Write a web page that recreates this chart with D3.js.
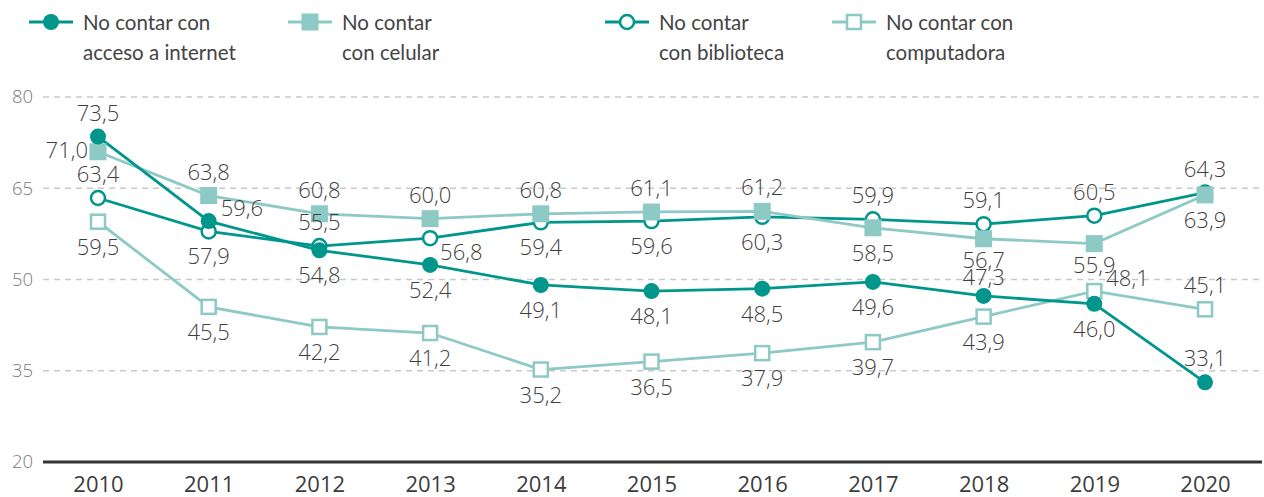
<!DOCTYPE html>
<html><head><meta charset="utf-8">
<script src="https://cdn.jsdelivr.net/npm/d3@7"></script>
<style>
html,body{margin:0;padding:0;background:#fff;}
svg{display:block;font-family:Lato,"Open Sans",sans-serif;}
</style></head>
<body>
<svg id="chart" width="1264" height="497"></svg>
<script>
const years = ["2010","2011","2012","2013","2014","2015","2016","2017","2018","2019","2020"];
const yTicks = [20,35,50,65,80];
const internet    = [73.5,59.6,54.8,52.4,49.1,48.1,48.5,49.6,47.3,46.0,33.1];
const celular     = [71.0,63.8,60.8,60.0,60.8,61.1,61.2,58.5,56.7,55.9,63.9];
const biblioteca  = [63.4,57.9,55.5,56.8,59.4,59.6,60.3,59.9,59.1,60.5,64.3];
const computadora = [59.5,45.5,42.2,41.2,35.2,36.5,37.9,39.7,43.9,48.1,45.1];
const names = [["No contar con","acceso a internet"],["No contar","con celular"],["No contar","con biblioteca"],["No contar con","computadora"]];
// label placement codes (a=above, b=below, a2/b2 = tight, l=left, ru=right-up, rd=right-down)
const placeInternet    = ["a","ru","b","b","b","b","b","b","a2","b","a"];
const placeCelular     = ["l","a","a","a","a","a","a","b","b2","b2","b"];
const placeBiblioteca  = ["a","b","a","rd","b","b","b","a","a","a","a"];
const placeComputadora = ["b","b","b","b","b","b","b","b","b","ru","a"];

const dark = "#00968c", light = "#8dc9c5";
const series = [
  {name:names[3], values:computadora, place:placeComputadora, color:light, shape:"square", fill:false},
  {name:names[2], values:biblioteca, place:placeBiblioteca, color:dark, shape:"circle", fill:false},
  {name:names[1], values:celular, place:placeCelular, color:light, shape:"square", fill:true},
  {name:names[0], values:internet, place:placeInternet, color:dark, shape:"circle", fill:true}
];
const legendOrder = [3,2,1,0];
const numFont = "'Open Sans',sans-serif";

const svg = d3.select("#chart");
const x = d3.scalePoint().domain(years).range([98,1205]);
const y = d3.scaleLinear().domain([20,80]).range([462,97]);

// grid
svg.append("g").selectAll("line").data(yTicks.filter(d=>d>20)).join("line")
  .attr("x1",43).attr("x2",1262).attr("y1",d=>y(d)).attr("y2",d=>y(d))
  .attr("stroke","#c9c9c9").attr("stroke-width",1.5).attr("stroke-dasharray","6,5");
svg.append("line").attr("x1",43).attr("x2",1262).attr("y1",y(20)).attr("y2",y(20))
  .attr("stroke","#333").attr("stroke-width",3);

// y tick labels
const yAxis = d3.axisLeft(y).tickValues(yTicks).tickSize(0).tickPadding(0);
const ya = svg.append("g").attr("transform","translate(33,0)").call(yAxis);
ya.select(".domain").remove();
ya.selectAll("text").attr("font-size",18.5).attr("fill","#7a7a7a").attr("font-family",numFont).attr("font-weight",300);

// x labels
const xAxis = d3.axisBottom(x).tickSize(0).tickPadding(0);
const xa = svg.append("g").attr("transform","translate(0,476)").call(xAxis);
xa.select(".domain").remove();
xa.selectAll("text").attr("font-size",22).attr("fill","#3c3c3c").attr("font-family",numFont).attr("dy","0.71em");

const line = d3.line().x((d,i)=>x(years[i])).y(d=>y(d));
function marker(g, s, cx, cy, size){
  if(s.shape==="circle"){
    g.append("circle").attr("cx",cx).attr("cy",cy).attr("r",s.fill?size*0.5:size*0.5-1)
      .attr("fill",s.fill?s.color:"#fff").attr("stroke",s.color).attr("stroke-width",s.fill?0:2.5);
  } else {
    const h = s.fill?size/2+0.5:size/2-1;
    g.append("rect").attr("x",cx-h).attr("y",cy-h).attr("width",2*h).attr("height",2*h)
      .attr("fill",s.fill?s.color:"#fff").attr("stroke",s.color).attr("stroke-width",s.fill?0:2.5);
  }
}
const offs = {a:[0,-25,"middle"], a2:[0,-20,"middle"], b:[0,24,"middle"], b2:[0,20,"middle"],
              l:[-10,-3,"end"], ru:[12,-14,"start"], rd:[10,13,"start"]};

series.forEach(s=>{
  svg.append("path").datum(s.values).attr("d",line).attr("fill","none")
    .attr("stroke",s.color).attr("stroke-width",2.8);
});
series.forEach(s=>{
  const g = svg.append("g");
  s.values.forEach((v,i)=>marker(g,s,x(years[i]),y(v),16));
});
const fmt = v=>v.toFixed(1).replace(".",",");
series.forEach(s=>{
  svg.append("g").selectAll("text").data(s.values).join("text")
    .attr("x",(d,i)=>x(years[i])+offs[s.place[i]][0])
    .attr("y",(d,i)=>y(d)+offs[s.place[i]][1])
    .attr("text-anchor",(d,i)=>offs[s.place[i]][2])
    .attr("dominant-baseline","central")
    .attr("font-family",numFont).attr("font-weight",300)
    .attr("font-size",22).attr("fill","#3f3f3f")
    .text(fmt);
});

// legend
const legX = [29,288,605,832];
legendOrder.forEach((si,k)=>{
  const s = series[si];
  const g = svg.append("g").attr("transform",`translate(${legX[k]},0)`);
  g.append("line").attr("x1",0).attr("x2",44).attr("y1",22).attr("y2",22).attr("stroke",s.color).attr("stroke-width",2.8);
  marker(g,s,22,22,16);
  const t = g.append("text").attr("x",54).attr("font-size",20.5).attr("fill","#444");
  t.append("tspan").attr("x",54).attr("y",30).text(s.name[0]);
  t.append("tspan").attr("x",54).attr("y",60).text(s.name[1]);
});
</script>
</body></html>
